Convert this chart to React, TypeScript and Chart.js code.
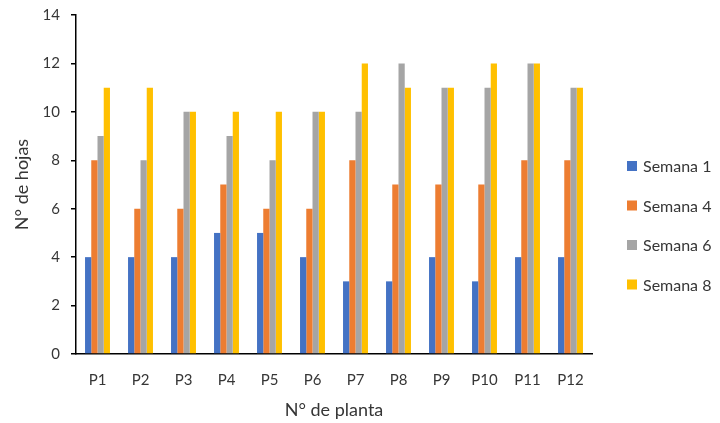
import React, { useEffect, useRef } from "react";
import { Chart, registerables } from "chart.js";

Chart.register(...registerables);

const categories = ["P1", "P2", "P3", "P4", "P5", "P6", "P7", "P8", "P9", "P10", "P11", "P12"];
const seriesNames = ["Semana 1", "Semana 4", "Semana 6", "Semana 8"];
const semana1 = [4, 4, 4, 5, 5, 4, 3, 3, 4, 3, 4, 4];
const semana4 = [8, 6, 6, 7, 6, 6, 8, 7, 7, 7, 8, 8];
const semana6 = [9, 8, 10, 9, 8, 10, 10, 12, 11, 11, 12, 11];
const semana8 = [11, 11, 10, 10, 10, 10, 12, 11, 11, 12, 12, 11];
const colors = ["#4472C4", "#ED7D31", "#A5A5A5", "#FFC000"];

const FONT = "Lato, 'Open Sans', sans-serif";
const TEXT = "#363636";

const legendPlugin = {
  id: "sideLegend",
  afterDraw(chart: any) {
    const { ctx, chartArea } = chart;
    const x0 = chartArea.right + 35;
    const startY = 166;
    const step = 39.5;
    ctx.save();
    ctx.font = `16px ${FONT}`;
    ctx.textBaseline = "middle";
    chart.data.datasets.forEach((ds: any, i: number) => {
      const y = startY + i * step;
      ctx.fillStyle = ds.backgroundColor;
      ctx.fillRect(x0, y - 5, 10, 10);
      ctx.fillStyle = TEXT;
      ctx.fillText(ds.label, x0 + 16, y + 1);
    });
    ctx.restore();
  },
};

export default function App() {
  const ref = useRef<HTMLCanvasElement>(null);
  useEffect(() => {
    if (!ref.current) return;
    const values = [semana1, semana4, semana6, semana8];
    const chart = new Chart(ref.current, {
      type: "bar",
      data: {
        labels: categories,
        datasets: seriesNames.map((name, i) => ({
          label: name,
          data: values[i],
          backgroundColor: colors[i],
          borderWidth: 0,
          categoryPercentage: 0.58,
          barPercentage: 1,
        })),
      },
      options: {
        animation: false,
        responsive: false,
        maintainAspectRatio: false,
        devicePixelRatio: 1,
        layout: { padding: { top: 15, right: 128, left: 0, bottom: 0 } },
        plugins: {
          legend: { display: false },
          tooltip: { enabled: false },
        },
        scales: {
          x: {
            grid: { display: false, drawTicks: false },
            border: { display: true, color: "#000", width: 1.5 },
            ticks: { color: TEXT, font: { family: FONT, size: 15 }, padding: 17 },
            title: {
              display: true,
              text: "N° de planta",
              color: TEXT,
              font: { family: FONT, size: 18 },
              padding: { top: 0, bottom: 2 },
            },
            afterFit(scale: any) {
              scale.height = 69;
              scale.paddingLeft = 0;
              scale.paddingRight = 0;
            },
          },
          y: {
            min: 0,
            max: 14,
            ticks: { stepSize: 2, color: TEXT, font: { family: FONT, size: 15 }, padding: 11 },
            grid: { display: true, drawOnChartArea: false, drawTicks: true, tickLength: 5, color: "#000", lineWidth: 1.5 },
            border: { display: true, color: "#000", width: 1.5 },
            title: {
              display: true,
              text: "N° de hojas",
              color: TEXT,
              font: { family: FONT, size: 18 },
              padding: { top: 11, bottom: 0 },
            },
            afterFit(scale: any) {
              scale.width = 76;
              scale.paddingTop = 0;
              scale.paddingBottom = 0;
            },
          },
        },
      },
      plugins: [legendPlugin],
    });
    return () => chart.destroy();
  }, []);
  return (
    <div style={{ position: "fixed", left: 0, top: 0, width: 720, height: 423, background: "#fff" }}>
      <canvas ref={ref} width={720} height={423} style={{ width: 720, height: 423 }} />
    </div>
  );
}
